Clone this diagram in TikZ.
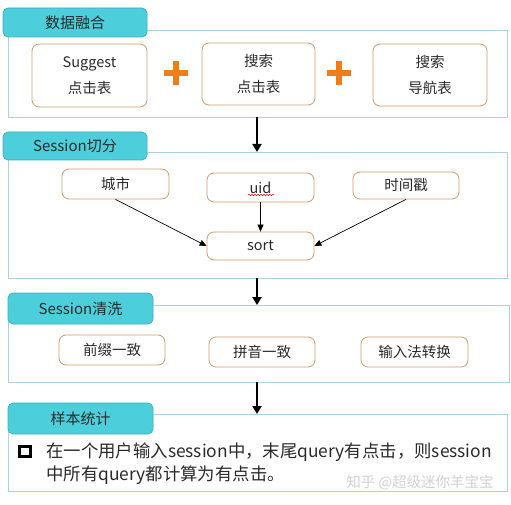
\documentclass[tikz,border=0pt]{standalone}
\usepackage{fontspec}
\setmainfont{Noto Sans CJK SC}
\usetikzlibrary{arrows.meta,decorations.pathmorphing}
\definecolor{hdr}{HTML}{4CCFDB}
\definecolor{hdrB}{HTML}{3AAFC2}
\definecolor{frm}{HTML}{A8D4E2}
\definecolor{itm}{HTML}{D09A68}
\definecolor{plus}{HTML}{F07D1A}
\definecolor{txt}{HTML}{2A2A2A}
\begin{document}
\begin{tikzpicture}[x=1pt,y=-1pt,
  header/.style={draw=hdrB, fill=hdr, rounded corners=5pt, line width=0.7pt, inner sep=0pt, text=txt, font=\fontsize{15}{18}\selectfont},
  frame/.style={draw=frm, line width=0.8pt},
  itembox/.style={draw=itm, rounded corners=7pt, line width=0.8pt, align=center, inner sep=0pt, text=txt, font=\fontsize{14.5}{26}\selectfont},
  bigarrow/.style={line width=2.6pt, -{Triangle[length=8pt,width=9pt]}},
  smallarrow/.style={line width=0.7pt, -{Triangle[length=7pt,width=6pt]}},
  plussign/.style={draw=plus, line width=6.5pt}
]
\useasboundingbox (0,0) rectangle (511,505);
\fill[white] (0,0) rectangle (511,505);

% ---------- Section 1 ----------
\node[frame, minimum width=499pt, minimum height=87pt, inner sep=0pt] (f1) at (257.5,73.5) {};
\node[header, minimum width=144pt, minimum height=29pt] (h1) at (75,22.5) {数据融合};
\node[itembox, minimum width=115pt, minimum height=63pt] (b1) at (89.5,75.5) {Suggest\\点击表};
\node[itembox, minimum width=113pt, minimum height=62pt] (b2) at (258.5,74) {搜索\\点击表};
\node[itembox, minimum width=114pt, minimum height=62pt] (b3) at (430,75) {搜索\\导航表};
\coordinate (p1) at (176,73);
\coordinate (p2) at (339,73);
\draw[plussign] ([xshift=-12pt]p1) -- ([xshift=12pt]p1);
\draw[plussign] ([yshift=-12pt]p1) -- ([yshift=12pt]p1);
\draw[plussign] ([xshift=-12pt]p2) -- ([xshift=12pt]p2);
\draw[plussign] ([yshift=-12pt]p2) -- ([yshift=12pt]p2);

% ---------- Section 2 ----------
\node[frame, minimum width=499pt, minimum height=126pt, inner sep=0pt] (f2) at (257.5,215) {};
\node[header, minimum width=144pt, minimum height=28pt] (h2) at (75,146) {Session切分};
\node[itembox, minimum width=107pt, minimum height=30pt] (c1) at (115.5,184) {城市};
\node[itembox, minimum width=107pt, minimum height=29pt] (c2) at (260.5,187.5) {uid};
\node[itembox, minimum width=106pt, minimum height=27pt] (c3) at (406,185.5) {时间戳};
\node[itembox, minimum width=107pt, minimum height=28pt] (s) at (260.5,246) {sort};
\draw[red, line width=0.5pt, decorate, decoration={snake, amplitude=0.8pt, segment length=3pt}] (248,195) -- (274,195);
\draw[smallarrow] (c1.south) -- (s.west);
\draw[smallarrow] (c2.south) -- (s.north);
\draw[smallarrow] (c3.south) -- (s.east);

% ---------- Section 3 ----------
\node[frame, minimum width=501pt, minimum height=77pt, inner sep=0pt] (f3) at (258.5,343.5) {};
\node[header, minimum width=145pt, minimum height=31pt] (h3) at (80.5,308.5) {Session清洗};
\node[itembox, minimum width=106pt, minimum height=30pt] (d1) at (112,350) {前缀一致};
\node[itembox, minimum width=106pt, minimum height=30pt] (d2) at (262,352) {拼音一致};
\node[itembox, minimum width=107pt, minimum height=30pt] (d3) at (414.5,352) {输入法转换};

% ---------- Section 4 ----------
\node[frame, minimum width=499pt, minimum height=77pt, inner sep=0pt] (f4) at (257.5,452.5) {};
\node[header, minimum width=145pt, minimum height=31pt] (h4) at (80.5,418.5) {样本统计};
\node[draw=black, line width=2.6pt, minimum size=10.5pt, inner sep=0pt] (bul) at (25,451.5) {};
\node[anchor=north west, align=left, inner sep=0pt, text=txt, font=\fontsize{17.4}{22.5}\selectfont] (t4) at (46,443) {在一个用户输入session中，末尾query有点击，则session\\中所有query都计算为有点击。};
\node[text=black!18, font=\fontsize{14.5}{18}\selectfont, inner sep=0pt] (wm) at (420,483) {知乎 @超级迷你羊宝宝};

% ---------- Flow arrows ----------
\draw[bigarrow] (257,117) -- (257,152);
\draw[bigarrow] (257,278) -- (257,305);
\draw[bigarrow] (257,382) -- (257,414);
\end{tikzpicture}
\end{document}
